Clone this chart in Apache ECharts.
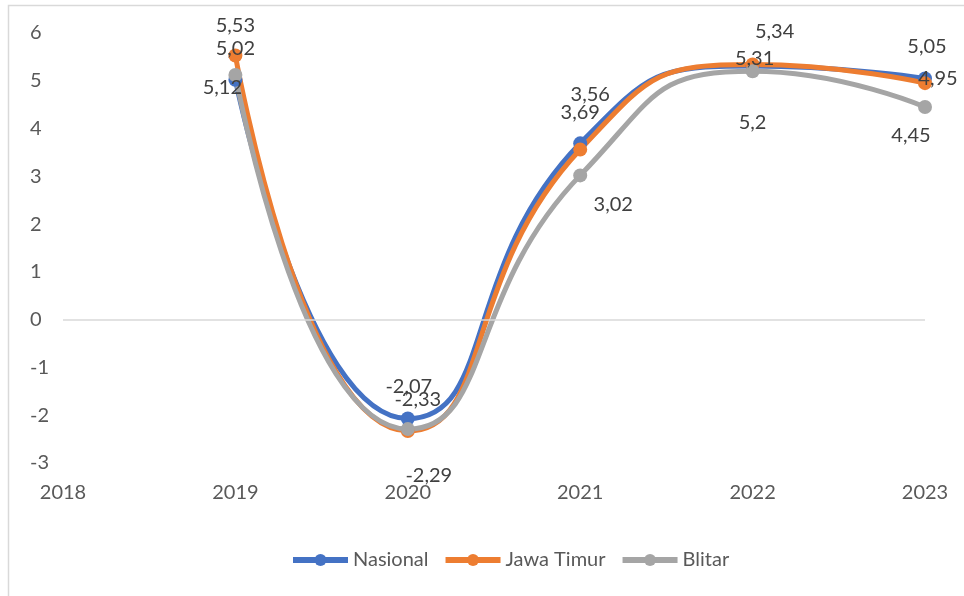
<!DOCTYPE html>
<html>
<head>
<meta charset="utf-8">
<script src="https://cdn.jsdelivr.net/npm/echarts@6/dist/echarts.min.js"></script>
<style>
html,body{margin:0;padding:0;background:#fff;}
#c{width:964px;height:596px;}
</style>
</head>
<body>
<div id="c"></div>
<script>
const years = [2019, 2020, 2021, 2022, 2023];
const nasional = [5.02, -2.07, 3.69, 5.31, 5.05];
const jawaTimur = [5.53, -2.33, 3.56, 5.34, 4.95];
const blitar = [5.12, -2.29, 3.02, 5.2, 4.45];
const xTicks = [2018, 2019, 2020, 2021, 2022, 2023];
const yTicks = [-3, -2, -1, 0, 1, 2, 3, 4, 5, 6];

// label offsets (pixels relative to each point)
const offNas = [[0,-31],[1,-32],[0,-31],[2,-7],[2,-32]];
const offJat = [[0,-30],[10,-31],[10,-55],[22,-33],[13,-5]];
const offBli = [[-13,13],[21,46],[33,29],[0,51],[-14,28]];

const FONT = 'Lato';
const TXT = '#404040';

function build(vals, offs) {
  return years.map((y, i) => ({
    value: [y, vals[i]],
    label: { offset: offs[i] }
  }));
}
function mk(name, vals, offs, color, extra) {
  return Object.assign({
    name: name,
    type: 'line',
    smooth: 0.55,
    symbol: 'circle',
    symbolSize: 14,
    data: build(vals, offs),
    itemStyle: { color: color },
    lineStyle: { color: color, width: 5 },
    label: {
      show: true,
      position: 'inside',
      color: TXT,
      fontFamily: FONT,
      fontSize: 20,
      formatter: p => String(p.value[1]).replace('.', ',')
    },
    emphasis: { disabled: true }
  }, extra || {});
}

const chart = echarts.init(document.getElementById('c'), null, { renderer: 'canvas' });
chart.setOption({
  animation: false,
  backgroundColor: '#fff',
  graphic: [{
    type: 'rect',
    shape: { x: 8.5, y: 5.5, width: 1000, height: 1000 },
    style: { fill: 'none', stroke: '#d9d9d9', lineWidth: 1.5 },
    silent: true
  }],
  grid: { left: 63, right: 39, top: 33, bottom: 133 },
  xAxis: {
    type: 'value',
    min: xTicks[0],
    max: xTicks[xTicks.length - 1],
    interval: 1,
    axisLine: { show: false },
    axisTick: { show: false },
    splitLine: { show: false },
    axisLabel: {
      color: '#595959', fontFamily: FONT, fontSize: 20, margin: 20,
      formatter: v => String(v)
    }
  },
  yAxis: {
    type: 'value',
    min: yTicks[0],
    max: yTicks[yTicks.length - 1],
    interval: 1,
    axisLine: { show: false },
    axisTick: { show: false },
    splitLine: { show: false },
    axisLabel: {
      color: '#595959', fontFamily: FONT, fontSize: 20, margin: 33, align: 'left'
    }
  },
  legend: {
    left: 285,
    top: 545,
    itemWidth: 55,
    itemHeight: 15,
    itemGap: 14,
    lineStyle: { width: 6 },
    textStyle: { color: '#595959', fontFamily: FONT, fontSize: 20 },
    data: ['Nasional', 'Jawa Timur', 'Blitar']
  },
  series: [
    mk('Nasional', nasional, offNas, '#4472C4', {
      markLine: {
        silent: true,
        symbol: 'none',
        label: { show: false },
        lineStyle: { color: '#d9d9d9', width: 1.5, type: 'solid' },
        data: [{ yAxis: 0 }]
      }
    }),
    mk('Jawa Timur', jawaTimur, offJat, '#ED7D31'),
    mk('Blitar', blitar, offBli, '#A5A5A5')
  ]
});
</script>
</body>
</html>
